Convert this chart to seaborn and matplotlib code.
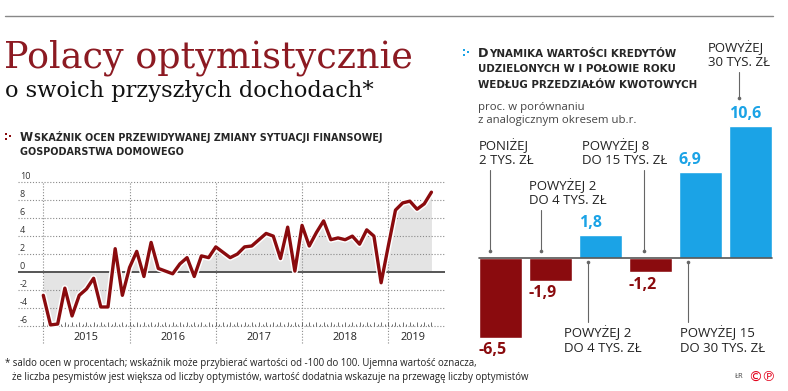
import numpy as np
import matplotlib
matplotlib.use("Agg")
import matplotlib.pyplot as plt
import matplotlib.patheffects as pe
import pandas as pd
import seaborn as sns

sns.set_style("white")
plt.rcParams['font.family'] = ['Open Sans', 'DejaVu Sans']

# saldo ocen (proc.), miesiecznie od I 2015 do VII 2019
saldo_2015 = [-2.6, -5.9, -5.8, -1.8, -4.9, -2.6, -1.9, -0.7, -3.9, -3.9, 2.6, -2.6]
saldo_2016 = [0.5, 2.3, -0.5, 3.3, 0.4, 0.1, -0.2, 0.9, 1.6, -0.5, 1.8, 1.6]
saldo_2017 = [2.8, 2.2, 1.6, 2.0, 2.8, 2.9, 3.6, 4.3, 4.0, 1.5, 5.0, 0.1]
saldo_2018 = [5.2, 2.9, 4.4, 5.7, 3.6, 3.8, 3.6, 4.0, 3.1, 4.7, 4.0, -1.2]
saldo_2019 = [2.9, 6.9, 7.7, 7.9, 7.0, 7.6, 8.9]
lata = [2015, 2016, 2017, 2018, 2019]
y_ticks = [10, 8, 6, 4, 2, 0, -2, -4, -6]

# dynamika wartosci kredytow wg przedzialow kwotowych
przedzialy = ["PONIŻEJ\n2 TYS. ZŁ", "POWYŻEJ 2\nDO 4 TYS. ZŁ", "POWYŻEJ 2\nDO 4 TYS. ZŁ",
              "POWYŻEJ 8\nDO 15 TYS. ZŁ", "POWYŻEJ 15\nDO 30 TYS. ZŁ", "POWYŻEJ\n30 TYS. ZŁ"]
dynamika = [-6.5, -1.9, 1.8, -1.2, 6.9, 10.6]

RED = '#8a0b0e'
TITLE_RED = '#8c1a22'
BLUE = '#1ba3e6'
GRID = '#8a8a8a'

W, H = 788, 391
fig = plt.figure(figsize=(W / 100, H / 100), dpi=100)


def box(l, t, r, b):
    return [l / W, 1 - b / H, (r - l) / W, (b - t) / H]


# overlay in pixel coords for titles and notes
ov = fig.add_axes([0, 0, 1, 1])
ov.set_xlim(0, W)
ov.set_ylim(H, 0)
ov.axis('off')

ov.plot([5, 773], [16, 16], color='#888888', lw=1)
ov.text(4, 68, "Polacy optymistycznie", family='DejaVu Serif', fontsize=26.3,
        color=TITLE_RED, va='baseline')
ov.text(5, 97, "o swoich przyszłych dochodach*", family='DejaVu Serif', fontsize=16.2,
        color='#111111', va='baseline')


def naglowek(x, y, lines, kolor, big=8.6, small=6.9, dy=15.5):
    # small caps: pierwsza litera wieksza
    t = ov.text(x, y, lines[0][0], family='DejaVu Sans', fontsize=big,
                fontweight='bold', va='baseline')
    ov.annotate(lines[0][1:], xy=(1, 0), xycoords=t, xytext=(0.4, 0.4),
                textcoords='offset points', family='DejaVu Sans', fontsize=small,
                fontweight='bold', va='bottom')
    for k, line in enumerate(lines[1:], 1):
        ov.text(x, y + k * dy, line, family='DejaVu Sans', fontsize=small,
                fontweight='bold', va='baseline')
    # ozdobnik ":·"
    ov.plot([x - 14, x - 14, x - 10], [y - 7.5, y - 2.5, y - 5], 's', ms=2.0,
            color=kolor, mew=0)


naglowek(20, 141, ["WSKAŹNIK OCEN PRZEWIDYWANEJ ZMIANY SYTUACJI FINANSOWEJ",
                   "GOSPODARSTWA DOMOWEGO"], RED, dy=14)
naglowek(478, 57, ["DYNAMIKA WARTOŚCI KREDYTÓW", "UDZIELONYCH W I POŁOWIE ROKU",
                   "WEDŁUG PRZEDZIAŁÓW KWOTOWYCH"], BLUE, big=9.2, small=7.4)

ov.text(478, 110, "proc. w porównaniu", fontsize=8.2, color='#444444', va='baseline')
ov.text(478, 122.7, "z analogicznym okresem ub.r.", fontsize=8.2, color='#444444',
        va='baseline')

ov.text(5, 366, "* saldo ocen w procentach; wskaźnik może przybierać wartości od -100 do 100. "
        "Ujemna wartość oznacza,", fontsize=6.9, color='#222222', va='baseline')
ov.text(12, 380, "że liczba pesymistów jest większa od liczby optymistów, wartość dodatnia "
        "wskazuje na przewagę liczby optymistów", fontsize=6.9, color='#222222', va='baseline')
ov.text(735, 377, "ŁR", fontsize=5.5, color='#444444', va='center')
ov.text(748, 377, "©℗", family='DejaVu Sans', fontsize=10, color='#e2001a', va='center')

# ---------- wykres liniowy ----------
saldo = saldo_2015 + saldo_2016 + saldo_2017 + saldo_2018 + saldo_2019
miesiace = np.arange(len(saldo))
df = pd.DataFrame({'miesiac': miesiace, 'saldo': saldo})

ax = fig.add_axes(box(18, 176, 445, 345))
ax.fill_between(df.miesiac, df.saldo, 0, color='#e4e4e4', lw=0, zorder=0.5)
for v in y_ticks:
    if v == 0:
        ax.axhline(v, color='#555555', lw=1.4, zorder=1)
    else:
        ax.axhline(v, color=GRID, lw=0.8, ls=(0, (1, 1.6)), zorder=1)
    ax.text(0.004, v + 0.62, str(v), transform=ax.get_yaxis_transform(),
            fontsize=6.5, color='#333333', va='center', ha='left')

starty = [12 * k for k in range(len(lata))]
ax.vlines(starty, -7.9, 10, color=GRID, lw=0.8, ls=(0, (1, 1.6)), zorder=1)
ax.vlines(miesiace, -6, -5.55, color='#555555', lw=0.6, zorder=1)
ax.vlines(miesiace[:-1] + 0.5, -6, -5.85, color='#555555', lw=0.6, zorder=1)
for k, rok in enumerate(lata):
    n = len(saldo[12 * k:12 * k + 12])
    ax.text(12 * k + n / 2, -7.35, str(rok), ha='center', va='center', fontsize=7.8,
            color='#222222')

sns.lineplot(data=df, x='miesiac', y='saldo', ax=ax, color=RED, lw=2.4, zorder=3)
ax.lines[-1].set_path_effects([pe.Stroke(linewidth=4.5, foreground='white'), pe.Normal()])

px_m = 86.25 / 12
ax.set_xlim((18 - 43.3) / px_m, (445 - 43.3) / px_m)
ax.set_ylim((272 - 345) / 8.97, (272 - 176) / 8.97)
ax.axis('off')

# ---------- wykres slupkowy ----------
dfb = pd.DataFrame({'nr': range(len(dynamika)), 'dynamika': dynamika,
                    'znak': ['spadek' if v < 0 else 'wzrost' for v in dynamika]})
bx = fig.add_axes(box(470, 30, 780, 345))
sns.barplot(data=dfb, x='nr', y='dynamika', hue='znak', dodge=False, width=0.874,
            palette={'spadek': RED, 'wzrost': BLUE}, saturation=1, legend=False, ax=bx)
bx.set_xlim(-0.61, 5.59)
bx.set_ylim((257.5 - 345) / 12.43, (257.5 - 30) / 12.43)
bx.axis('off')

lewe = min(p.get_x() for p in bx.patches)
prawe = max(p.get_x() + p.get_width() for p in bx.patches)
bx.plot([lewe, prawe], [0, 0], color='#555555', lw=1.2, zorder=3)

for p in bx.patches:
    i = int(round(p.get_x() + p.get_width() / 2))
    v = dynamika[i]
    bx.annotate(f"{v:.1f}".replace('.', ','), xy=(p.get_x(), v),
                xytext=(0, 3 if v > 0 else -3), textcoords='offset points',
                ha='left', va='bottom' if v > 0 else 'top', fontsize=11.5,
                fontweight='bold', color=BLUE if v > 0 else RED)

# (strona, dx linii, y poczatku, y konca, dx tekstu, y tekstu)
etykiety = [
    ('top', -0.20, 0.5, 7.0, -0.43, 7.25),
    ('top', -0.19, 0.5, 3.8, -0.43, 4.05),
    ('bottom', -0.26, -0.4, -5.2, -0.74, -5.45),
    ('top', -0.13, 0.5, 7.0, -1.36, 7.25),
    ('bottom', -0.26, -0.4, -5.2, -0.42, -5.45),
    ('top', -0.24, 12.8, 14.9, -0.86, 15.15),
]
for i, (strona, dx, y0, y1, tx, ty) in enumerate(etykiety):
    bx.plot([i + dx, i + dx], [y0, y1], color='#666666', lw=0.8, zorder=2)
    bx.plot(i + dx, y0, 'o', ms=2.6, color='#666666', mew=0, zorder=2)
    bx.text(i + tx, ty, przedzialy[i], ha='left',
            va='bottom' if strona == 'top' else 'top', fontsize=9.5,
            color='#222222', linespacing=1.15, clip_on=False)

fig.savefig('out.png', dpi=100)
